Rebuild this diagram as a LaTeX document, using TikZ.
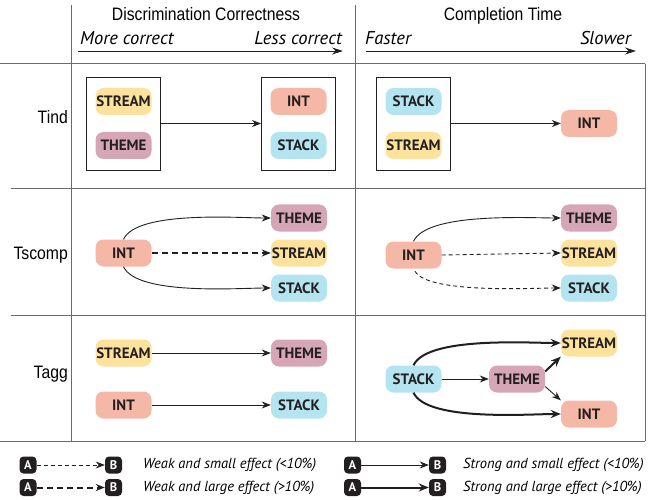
\documentclass[tikz,border=0pt]{standalone}
\usepackage{fontspec}
\setmainfont{PT Sans}
\newfontfamily\hfont[FakeStretch=0.875]{Liberation Sans}
\usetikzlibrary{arrows.meta}
\definecolor{cstream}{HTML}{FDE29E}
\definecolor{ctheme}{HTML}{D6A6B6}
\definecolor{cint}{HTML}{F6B8A6}
\definecolor{cstack}{HTML}{B4E4EF}
\definecolor{txt}{HTML}{231F20}
\definecolor{gridc}{HTML}{6A6A6A}
\definecolor{arr}{HTML}{231F20}
\begin{document}
\begin{tikzpicture}[x=1pt,y=-1pt,
  pill/.style={rounded corners=8pt, minimum width=56pt, minimum height=27pt, inner sep=0pt,
    font=\fontsize{15}{15}\selectfont\bfseries, text=txt},
  grp/.style={draw=txt, line width=0.9pt, minimum width=74pt, minimum height=93pt, inner sep=0pt},
  conn/.style={-{Stealth[length=9pt,width=7pt]}, line width=0.9pt, draw=arr},
  strongc/.style={-{Stealth[length=10pt,width=8pt]}, line width=2pt, draw=arr},
  weaksmall/.style={conn, dash pattern=on 4pt off 3pt},
  weaklarge/.style={-{Stealth[length=9pt,width=7pt]}, line width=2pt, draw=arr, dash pattern=on 6pt off 4pt},
  gridline/.style={draw=gridc, line width=1pt},
  hdr/.style={font=\hfont\fontsize{18}{18}\selectfont, inner sep=0pt},
  axl/.style={font=\fontsize{18.5}{18.5}\selectfont\itshape, inner sep=0pt},
  axarr/.style={-{Stealth[length=11pt,width=7pt]}, line width=0.9pt, draw=arr},
  lbox/.style={fill=txt, rounded corners=4pt, minimum size=17pt, inner sep=0pt, text=white,
    font=\fontsize{12.5}{12.5}\selectfont\bfseries},
  ltext/.style={font=\fontsize{14.5}{14.5}\selectfont\itshape, anchor=west, inner sep=0pt}
]
\useasboundingbox (0,0) rectangle (651,500);
% grid
\draw[gridline] (0,64) -- (645,64);
\draw[gridline] (11,189) -- (645,189);
\draw[gridline] (11,315) -- (645,315);
\draw[gridline] (0,441) -- (645,441);
\draw[gridline] (71,5) -- (71,441);
\draw[gridline] (355,5) -- (355,441);
\draw[gridline] (645,64) -- (645,441);
% headers
\node[hdr, anchor=base] (h1) at (206,21) {Discrimination Correctness};
\node[hdr, anchor=base] (h2) at (503,21) {Completion Time};
\node[axl, anchor=base west] (m1) at (80,45) {More correct};
\node[axl, anchor=base east] (l1) at (342,45) {Less correct};
\node[axl, anchor=base west] (f1) at (365,45) {Faster};
\node[axl, anchor=base east] (s1) at (631,45) {Slower};
\coordinate (a1s) at (78,51);
\coordinate (a1e) at (343,51);
\coordinate (a2s) at (366,51);
\coordinate (a2e) at (636,51);
\draw[axarr] (a1s) -- (a1e);
\draw[axarr] (a2s) -- (a2e);
% row labels
\node[hdr, anchor=base east] (r1) at (68,123.5) {Tind};
\node[hdr, anchor=base east] (r2) at (68,259) {Tscomp};
\node[hdr, anchor=base east] (r3) at (68,378) {Tagg};
% row 1 left
\node[grp] (b1) at (123.5,123.5) {};
\node[grp] (b2) at (298.5,123.5) {};
\node[pill, fill=cstream] (st1) at (123.5,101.5) {STREAM};
\node[pill, fill=ctheme] (th1) at (123.5,145.5) {THEME};
\node[pill, fill=cint] (in1) at (298.5,101.5) {INT};
\node[pill, fill=cstack] (sk1) at (298.5,145.5) {STACK};
\draw[conn] (b1.east) -- (b2.west);
% row 1 right
\node[grp] (b3) at (413.5,123.5) {};
\node[pill, fill=cstack] (sk1r) at (413.5,101.5) {STACK};
\node[pill, fill=cstream] (st1r) at (413.5,145.5) {STREAM};
\node[pill, fill=cint] (in1r) at (589,123.5) {INT};
\draw[conn] (b3.east) -- (in1r.west);
% row 2 left
\node[pill, fill=cint] (in2) at (123.5,253) {INT};
\node[pill, fill=ctheme] (th2) at (299,218) {THEME};
\node[pill, fill=cstream] (st2) at (299,253) {STREAM};
\node[pill, fill=cstack] (sk2) at (299,288) {STACK};
\draw[conn] (in2.north) to[out=65,in=180,looseness=0.55] (th2.west);
\draw[weaklarge] (in2.east) -- (st2.west);
\draw[conn] (in2.south) to[out=-65,in=180,looseness=0.55] (sk2.west);
% row 2 right
\node[pill, fill=cint] (in2r) at (413.5,255) {INT};
\node[pill, fill=ctheme] (th2r) at (589,218) {THEME};
\node[pill, fill=cstream] (st2r) at (589,253) {STREAM};
\node[pill, fill=cstack] (sk2r) at (589,288) {STACK};
\draw[conn] (in2r.north) to[out=65,in=180,looseness=0.55] (th2r.west);
\draw[weaksmall] (in2r.east) -- (st2r.west);
\draw[weaksmall, shorten <=3pt] (in2r.south) to[out=-60,in=180,looseness=0.5] (sk2r.west);
% row 3 left
\node[pill, fill=cstream] (st3) at (123.5,353) {STREAM};
\node[pill, fill=ctheme] (th3) at (299,353) {THEME};
\node[pill, fill=cint] (in3) at (123.5,405) {INT};
\node[pill, fill=cstack] (sk3) at (299,405) {STACK};
\draw[conn] (st3.east) -- (th3.west);
\draw[conn] (in3.east) -- (sk3.west);
% row 3 right
\node[pill, fill=cstack] (sk3r) at (413.5,379) {STACK};
\node[pill, fill=ctheme] (th3r) at (517,379) {THEME};
\node[pill, fill=cstream] (st3r) at (589,343) {STREAM};
\node[pill, fill=cint] (in3r) at (589,414) {INT};
\draw[conn] (sk3r.east) -- (th3r.west);
\draw[strongc] (sk3r.north) to[out=65,in=180,looseness=0.55] (st3r.west);
\draw[strongc] (sk3r.south) to[out=-65,in=180,looseness=0.55] (in3r.west);
\draw[strongc] (th3r.15) -- (st3r.south west);
\draw[conn] (th3r.-15) -- (in3r.north west);
% legend
\node[lbox] (la1) at (28,465) {A};
\node[lbox] (lb1) at (113.5,465) {B};
\node[lbox] (la2) at (28,487.5) {A};
\node[lbox] (lb2) at (113.5,487.5) {B};
\draw[weaksmall] (la1.east) -- (lb1.west);
\draw[weaklarge] (la2.east) -- (lb2.west);
\node[ltext] (lt1) at (143,465) {Weak and small effect (<10\%)};
\node[ltext] (lt2) at (143,487.5) {Weak and large effect (>10\%)};
\node[lbox] (la3) at (352.5,465) {A};
\node[lbox] (lb3) at (437.5,465) {B};
\node[lbox] (la4) at (352.5,487.5) {A};
\node[lbox] (lb4) at (437.5,487.5) {B};
\draw[conn] (la3.east) -- (lb3.west);
\draw[strongc] (la4.east) -- (lb4.west);
\node[ltext] (lt3) at (463,465) {Strong and small effect (<10\%)};
\node[ltext] (lt4) at (463,487.5) {Strong and large effect (>10\%)};
\end{tikzpicture}
\end{document}
